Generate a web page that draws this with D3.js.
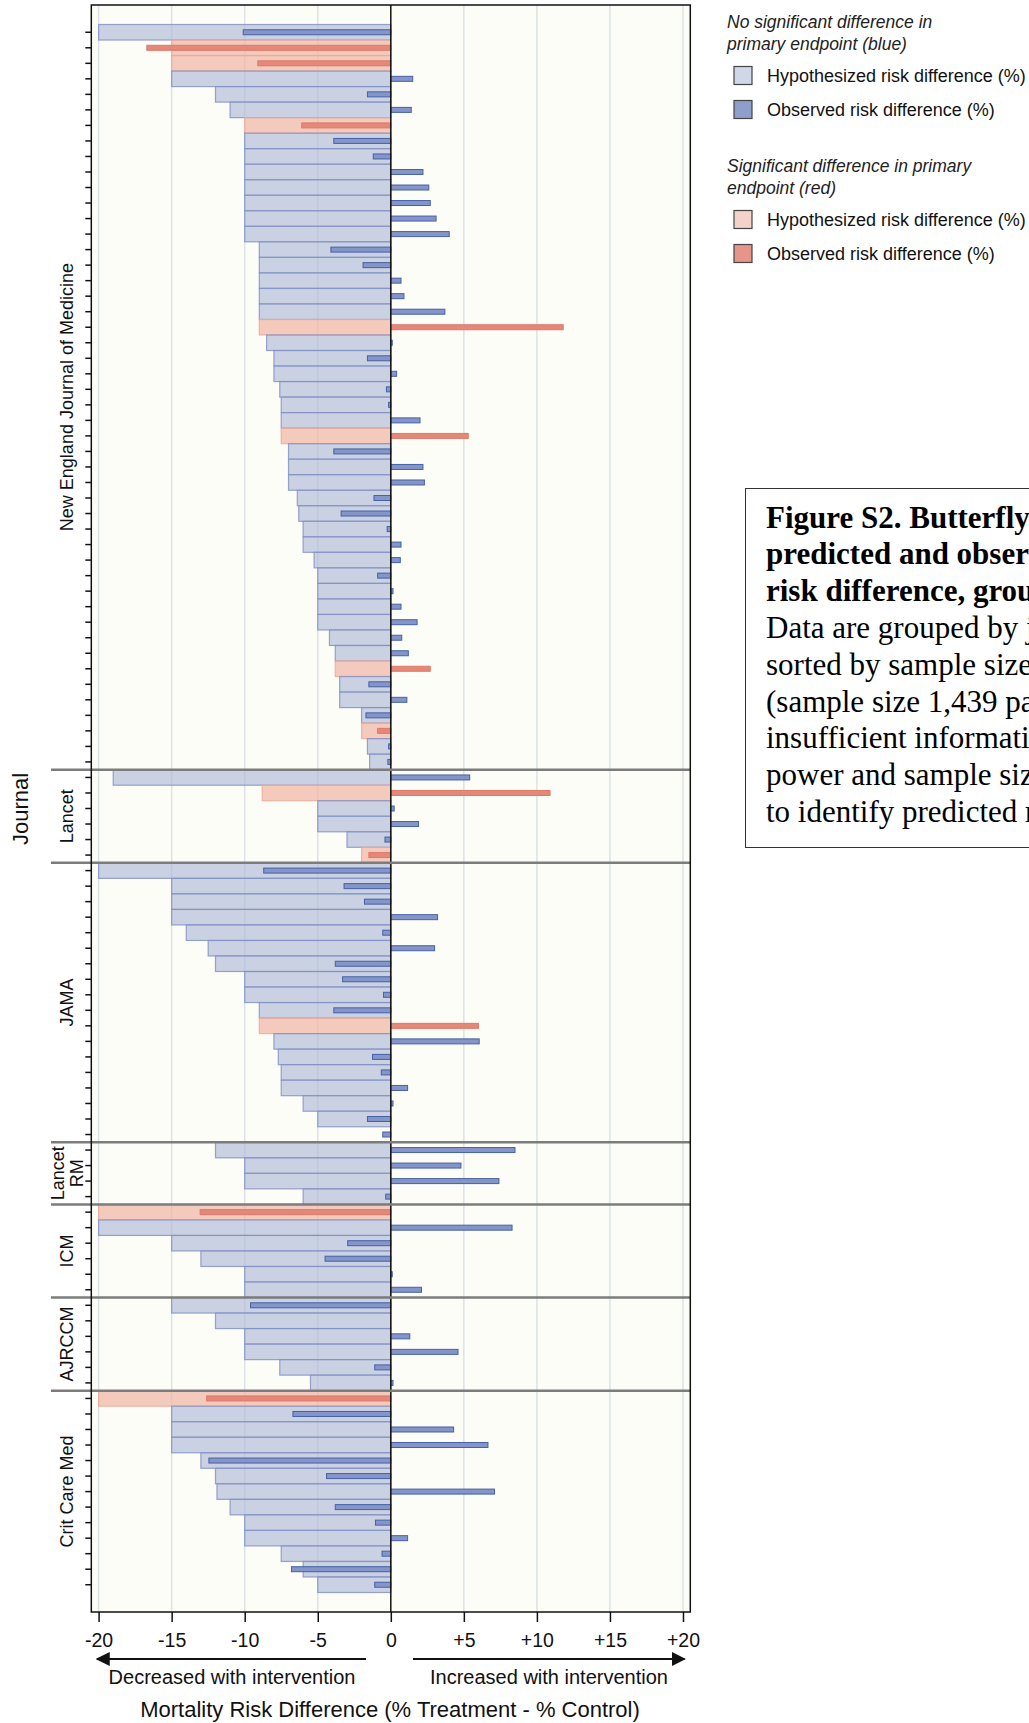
<!DOCTYPE html>
<html>
<head>
<meta charset="utf-8">
<script src="https://cdn.jsdelivr.net/npm/d3@7"></script>
<style>
  body { margin: 0; background: #fff; }
  svg { display: block; font-family: "Liberation Sans", Arial, sans-serif; }
</style>
</head>
<body>
<div id="chart"></div>
<script>
// journals, in plot order, with number of trials in each
var journals = ["NEJM", "Lancet", "JAMA", "Lancet RM", "ICM", "AJRCCM", "Crit Care Med"];
var journalLabels = [["New England Journal of Medicine"], ["Lancet"], ["JAMA"], ["Lancet", "RM"], ["ICM"], ["AJRCCM"], ["Crit Care Med"]];
var trialsPerJournal = [48, 6, 18, 4, 6, 6, 13];

// hypothesized risk difference (%) per trial, null = not reported
var hypothesized = [
  -20, -15, -15, -15, -12, -11, -10, -10, -10, -10, -10, -10, -10, -10, -9, -9, -9, -9, -9, -9,
  -8.5, -8, -8, -7.6, -7.5, -7.5, -7.5, -7, -7, -7, -6.4, -6.3, -6, -6, -5.25, -5, -5, -5, -5, -4.2,
  -3.8, -3.8, -3.5, -3.5, -2, -2, -1.6, -1.45,
  -19, -8.8, -5, -5, -3, -2,
  -20, -15, -15, -15, -14, -12.5, -12, -10, -10, -9, -9, -8, -7.7, -7.5, -7.5, -6, -5, null,
  -12, -10, -10, -6,
  -20, -20, -15, -13, -10, -10,
  -15, -12, -10, -10, -7.6, -5.5,
  -20, -15, -15, -15, -13, -12, -11.9, -11, -10, -10, -7.5, -6, -5
];

// observed risk difference (%) per trial
var observed = [
  -10.1, -16.7, -9.1, 1.5, -1.6, 1.4, -6.1, -3.9, -1.2, 2.2, 2.6, 2.7, 3.1, 4.0, -4.1, -1.9, 0.7, 0.9, 3.7, 11.8,
  0.1, -1.6, 0.4, -0.3, -0.15, 2.0, 5.3, -3.9, 2.2, 2.3, -1.15, -3.4, -0.25, 0.7, 0.65, -0.9, 0.15, 0.7, 1.8, 0.75,
  1.2, 2.7, -1.5, 1.1, -1.7, -0.9, -0.15, -0.2,
  5.4, 10.9, 0.23, 1.9, -0.4, -1.5,
  -8.7, -3.2, -1.8, 3.2, -0.55, 3.0, -3.8, -3.3, -0.5, -3.9, 6.0, 6.05, -1.25, -0.65, 1.15, 0.15, -1.6, -0.55,
  8.5, 4.8, 7.4, -0.35,
  -13.05, 8.3, -2.95, -4.5, 0.1, 2.1,
  -9.6, null, 1.3, 4.6, -1.1, 0.15,
  -12.6, -6.7, 4.3, 6.65, -12.45, -4.4, 7.1, -3.8, -1.05, 1.15, -0.6, -6.8, -1.1
];

// 1 = significant difference in primary endpoint (red)
var significant = [
  0, 1, 1, 0, 0, 0, 1, 0, 0, 0, 0, 0, 0, 0, 0, 0, 0, 0, 0, 1,
  0, 0, 0, 0, 0, 0, 1, 0, 0, 0, 0, 0, 0, 0, 0, 0, 0, 0, 0, 0,
  0, 1, 0, 0, 0, 1, 0, 0,
  0, 1, 0, 0, 0, 1,
  0, 0, 0, 0, 0, 0, 0, 0, 0, 0, 1, 0, 0, 0, 0, 0, 0, 0,
  0, 0, 0, 0,
  1, 0, 0, 0, 0, 0,
  0, 0, 0, 0, 0, 0,
  1, 0, 0, 0, 0, 0, 0, 0, 0, 0, 0, 0, 0
];

var xTicks = [-20, -15, -10, -5, 0, 5, 10, 15, 20];

var width = 1029, height = 1723;
var plot = {left: 91.3, right: 690.3, top: 5, bottom: 1612};

var rows = [];
var groupStarts = [];
var k = 0;
journals.forEach(function(j, gi) {
  groupStarts.push(k);
  for (var n = 0; n < trialsPerJournal[gi]; n++) {
    rows.push({id: k, journal: j, hyp: hypothesized[k], obs: observed[k], sig: significant[k]});
    k++;
  }
});

var colors = {
  hypFill: ["#b4bfd9", "#f0b6a5"],
  hypStroke: ["#7f8fc2", "#eea796"],
  obsFill: ["#8595c8", "#e4887a"],
  obsStroke: ["#4561a8", "#e07868"]
};

var svg = d3.select("#chart").append("svg")
  .attr("width", width)
  .attr("height", height);

var xScale = d3.scaleLinear()
  .domain([-20.5, 20.5])
  .range([plot.left, plot.right]);

var yScale = d3.scaleBand()
  .domain(rows.map(function(d) { return d.id; }))
  .range([plot.top, plot.bottom])
  .paddingInner(0)
  .paddingOuter(1.256);

var bw = yScale.bandwidth();

// plot background
svg.append("rect")
  .attr("x", plot.left).attr("y", plot.top)
  .attr("width", plot.right - plot.left).attr("height", plot.bottom - plot.top)
  .attr("fill", "#fdfdf7");

// grid
svg.append("g").selectAll("line")
  .data(xTicks.filter(function(d) { return d !== 0; }))
  .enter().append("line")
    .attr("x1", function(d) { return xScale(d); })
    .attr("x2", function(d) { return xScale(d); })
    .attr("y1", plot.top).attr("y2", plot.bottom)
    .attr("stroke", "#dce2e5")
    .attr("stroke-width", 1.5);

// hypothesized bars (wide)
svg.append("g").selectAll("rect")
  .data(rows.filter(function(d) { return d.hyp !== null; }))
  .enter().append("rect")
    .attr("x", function(d) { return xScale(Math.min(0, d.hyp)); })
    .attr("y", function(d) { return yScale(d.id); })
    .attr("width", function(d) { return Math.abs(xScale(d.hyp) - xScale(0)); })
    .attr("height", bw)
    .attr("fill", function(d) { return colors.hypFill[d.sig]; })
    .attr("fill-opacity", 0.72)
    .attr("stroke", function(d) { return colors.hypStroke[d.sig]; })
    .attr("stroke-opacity", 0.8)
    .attr("stroke-width", 1.2);

// observed bars (thin)
var obsH = 5;
svg.append("g").selectAll("rect")
  .data(rows.filter(function(d) { return d.obs !== null; }))
  .enter().append("rect")
    .attr("x", function(d) { return xScale(Math.min(0, d.obs)); })
    .attr("y", function(d) { return yScale(d.id) + bw / 2 - obsH / 2; })
    .attr("width", function(d) { return Math.max(1, Math.abs(xScale(d.obs) - xScale(0))); })
    .attr("height", obsH)
    .attr("fill", function(d) { return colors.obsFill[d.sig]; })
    .attr("stroke", function(d) { return colors.obsStroke[d.sig]; })
    .attr("stroke-width", 1);

// zero line
svg.append("line")
  .attr("x1", xScale(0)).attr("x2", xScale(0))
  .attr("y1", plot.top).attr("y2", plot.bottom)
  .attr("stroke", "#111").attr("stroke-width", 1.5);

// group separators
svg.append("g").selectAll("line")
  .data(groupStarts.slice(1))
  .enter().append("line")
    .attr("x1", 51).attr("x2", plot.right)
    .attr("y1", function(d) { return yScale(d); })
    .attr("y2", function(d) { return yScale(d); })
    .attr("stroke", "#7c7c7c")
    .attr("stroke-width", 2.5);

// frame
svg.append("rect")
  .attr("x", plot.left).attr("y", plot.top)
  .attr("width", plot.right - plot.left).attr("height", plot.bottom - plot.top)
  .attr("fill", "none").attr("stroke", "#111").attr("stroke-width", 1.5);

// y axis ticks (one per trial)
var yAxis = svg.append("g")
  .attr("transform", "translate(" + plot.left + ",0)")
  .call(d3.axisLeft(yScale).tickFormat("").tickSize(6));
yAxis.select(".domain").remove();
yAxis.selectAll(".tick line").attr("stroke", "#111").attr("stroke-width", 1.5);

// x axis
var xAxis = svg.append("g")
  .attr("transform", "translate(0," + plot.bottom + ")")
  .call(d3.axisBottom(xScale).tickValues(xTicks).tickSize(10).tickPadding(11)
    .tickFormat(function(d) { return d > 0 ? "+" + d : String(d); }));
xAxis.select(".domain").remove();
xAxis.selectAll(".tick line").attr("stroke", "#111").attr("stroke-width", 1.5);
xAxis.selectAll(".tick text")
  .attr("font-size", "19.5px")
  .attr("font-family", "'Liberation Sans', Arial, sans-serif")
  .attr("fill", "#111");

// arrows under the axis
var defs = svg.append("defs");
defs.append("marker")
  .attr("id", "arrow")
  .attr("viewBox", "0 0 10 10")
  .attr("refX", 9).attr("refY", 5)
  .attr("markerWidth", 7).attr("markerHeight", 7)
  .attr("markerUnits", "strokeWidth")
  .attr("orient", "auto-start-reverse")
  .append("path").attr("d", "M0,0 L10,5 L0,10 z").attr("fill", "#111");

var arrowY = 1659;
svg.append("line")
  .attr("x1", 366).attr("x2", xScale(-20.1))
  .attr("y1", arrowY).attr("y2", arrowY)
  .attr("stroke", "#111").attr("stroke-width", 2)
  .attr("marker-end", "url(#arrow)");
svg.append("line")
  .attr("x1", 413).attr("x2", xScale(20.1))
  .attr("y1", arrowY).attr("y2", arrowY)
  .attr("stroke", "#111").attr("stroke-width", 2)
  .attr("marker-end", "url(#arrow)");

svg.append("text")
  .attr("x", 232).attr("y", 1677)
  .attr("text-anchor", "middle").attr("dominant-baseline", "central")
  .attr("font-size", "20px").attr("fill", "#111")
  .text("Decreased with intervention");
svg.append("text")
  .attr("x", 549).attr("y", 1677)
  .attr("text-anchor", "middle").attr("dominant-baseline", "central")
  .attr("font-size", "20px").attr("fill", "#111")
  .text("Increased with intervention");
svg.append("text")
  .attr("x", 390).attr("y", 1709)
  .attr("text-anchor", "middle").attr("dominant-baseline", "central")
  .attr("font-size", "22px").attr("fill", "#111")
  .text("Mortality Risk Difference (% Treatment - % Control)");

// y title
svg.append("text")
  .attr("transform", "translate(20,809) rotate(-90)")
  .attr("text-anchor", "middle").attr("dominant-baseline", "central")
  .attr("font-size", "22px").attr("fill", "#111")
  .text("Journal");

// journal labels
journalLabels.forEach(function(lines, gi) {
  var y0 = yScale(groupStarts[gi]);
  var y1 = y0 + trialsPerJournal[gi] * yScale.step();
  var cy = (y0 + y1) / 2;
  lines.forEach(function(line, li) {
    var cx = 67 + (li - (lines.length - 1) / 2) * 19;
    svg.append("text")
      .attr("transform", "translate(" + cx + "," + cy + ") rotate(-90)")
      .attr("text-anchor", "middle").attr("dominant-baseline", "central")
      .attr("font-size", "18px").attr("fill", "#111")
      .text(line);
  });
});

// legend
var legendGroups = [
  {title: ["No significant difference in", "primary endpoint (blue)"], y: 22, sig: 0},
  {title: ["Significant difference in primary", "endpoint (red)"], y: 166, sig: 1}
];
var legendFill = {hyp: ["#d0d7e7", "#f4d2ca"], obs: ["#8e9fcb", "#e5958a"]};
legendGroups.forEach(function(g) {
  g.title.forEach(function(t, i) {
    svg.append("text")
      .attr("x", 727).attr("y", g.y + i * 22)
      .attr("dominant-baseline", "central")
      .attr("font-size", "17.5px").attr("font-style", "italic").attr("fill", "#222")
      .text(t);
  });
  [["hyp", "Hypothesized risk difference (%)"], ["obs", "Observed risk difference (%)"]].forEach(function(item, i) {
    var cy = g.y + 54 + i * 34;
    svg.append("rect")
      .attr("x", 734).attr("y", cy - 9.5)
      .attr("width", 18).attr("height", 18)
      .attr("fill", legendFill[item[0]][g.sig])
      .attr("stroke", "#444").attr("stroke-width", 1.2);
    svg.append("text")
      .attr("x", 767).attr("y", cy)
      .attr("dominant-baseline", "central")
      .attr("font-size", "18px").attr("fill", "#111")
      .text(item[1]);
  });
});

// caption box (runs off the right edge, as in the source figure)
var caption = [
  ["Figure S2. Butterfly plot of", true],
  ["predicted and observed mortality", true],
  ["risk difference, grouped by journal.", true],
  ["Data are grouped by journal and", false],
  ["sorted by sample size. One trial", false],
  ["(sample size 1,439 patients) had", false],
  ["insufficient information on the", false],
  ["power and sample size calculation", false],
  ["to identify predicted risk difference.", false]
];
svg.append("rect")
  .attr("x", 745.5).attr("y", 488.5)
  .attr("width", 320).attr("height", 359)
  .attr("fill", "#fff").attr("stroke", "#333").attr("stroke-width", 1);
caption.forEach(function(c, i) {
  svg.append("text")
    .attr("x", 766).attr("y", 517 + i * 36.8)
    .attr("dominant-baseline", "central")
    .attr("font-family", "'Liberation Serif', 'Times New Roman', serif")
    .attr("font-size", "31px")
    .attr("font-weight", c[1] ? "bold" : "normal")
    .attr("fill", "#000")
    .text(c[0]);
});
</script>
</body>
</html>
